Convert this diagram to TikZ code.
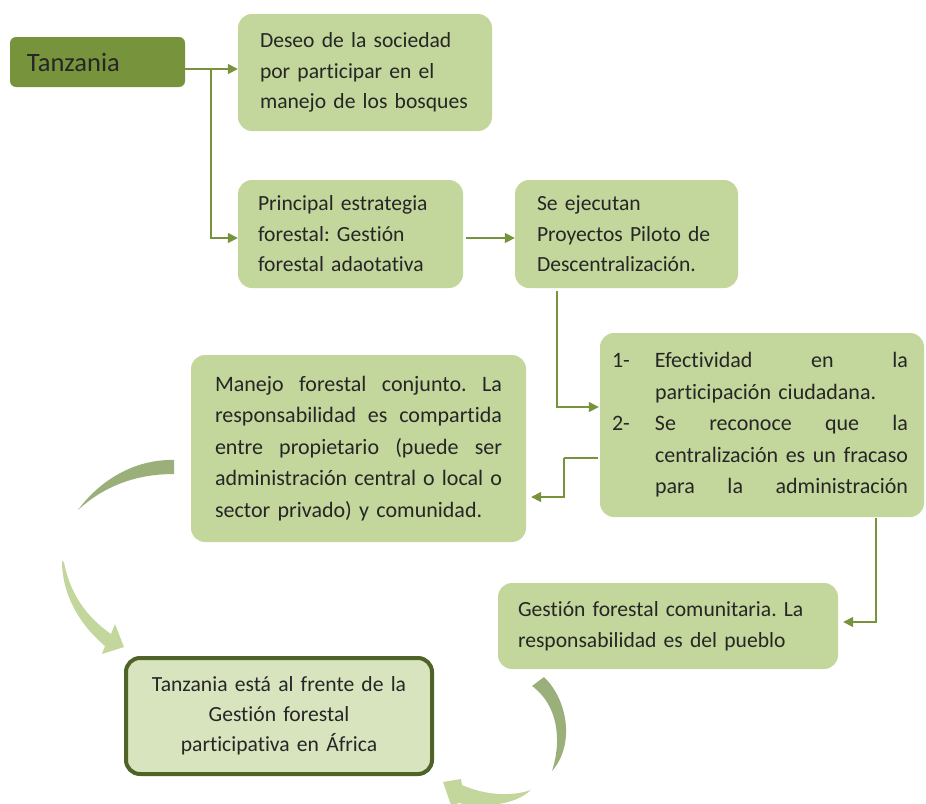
\documentclass[tikz,border=0pt]{standalone}
\usepackage{fontspec}
\setmainfont{Carlito}[Ligatures=NoCommon]
\usetikzlibrary{arrows.meta,calc}

\definecolor{olivedark}{HTML}{77933C}
\definecolor{olivelight}{HTML}{C3D69B}
\definecolor{olivepale}{HTML}{D7E4BD}
\definecolor{oliveborder}{HTML}{4F6228}
\definecolor{arcgrey}{HTML}{9BAF7A}
\definecolor{inkgrey}{HTML}{262626}

% a line of text spread across a given width
\newcommand{\spreadline}[2]{\makebox[#1][s]{#2}}

\begin{document}
\begin{tikzpicture}[x=1pt,y=-1pt,
  box/.style={rounded corners=14pt, fill=olivelight, text=inkgrey,
    font=\fontsize{21.6}{30.5}\selectfont\frenchspacing, inner ysep=0pt},
  link/.style={draw=olivedark, line width=1.6pt,
    -{Triangle[length=10pt,width=10pt]}},
  plainlink/.style={draw=olivedark, line width=1.6pt}]

\useasboundingbox (0,0) rectangle (926,803);

% starting box
\node[rounded corners=6pt, fill=olivedark, text=inkgrey,
  font=\fontsize{26.5}{30}\selectfont, text width=141pt, inner xsep=17pt,
  inner ysep=0pt, minimum height=50pt] (tz) at (97.5,62) {Tanzania};

% process boxes
\node[box, text width=224pt, inner xsep=15pt, minimum height=117pt] (b1) at (365,72.5)
  {\hspace*{7pt}Deseo de la sociedad\\\hspace*{7pt}por participar en el\\\hspace*{7pt}manejo de los bosques};

\node[box, text width=185pt, inner xsep=20pt, minimum height=108pt] (b2) at (350.5,234)
  {Principal estrategia\\forestal: Gestión\\forestal adaotativa};

\node[box, text width=179pt, inner xsep=22pt, minimum height=108pt] (b3) at (626.5,234)
  {Se ejecutan\\Proyectos Piloto de\\Descentralización.};

\node[box, font=\fontsize{22}{31.5}\selectfont\frenchspacing, text width=300pt,
  inner xsep=12pt, minimum height=184pt] (b4) at (762,425)
  {\makebox[43pt][l]{1-}\spreadline{253pt}{Efectividad\hfill en\hfill la}\\
   \hspace*{43pt}participación ciudadana.\\
   \makebox[43pt][l]{2-}\spreadline{253pt}{Se\hfill reconoce\hfill que\hfill la}\\
   \hspace*{43pt}\spreadline{253pt}{centralización\hfill es\hfill un\hfill fracaso}\\
   \hspace*{43pt}\spreadline{253pt}{para\hfill la\hfill administración}};

\node[box, font=\fontsize{22}{31.5}\selectfont\frenchspacing, text width=287pt,
  inner xsep=24pt, minimum height=187pt] (b5) at (358.5,448.5)
  {\spreadline{287pt}{Manejo\hfill forestal\hfill conjunto.\hfill La}\\
   \spreadline{287pt}{responsabilidad\hfill es\hfill compartida}\\
   \spreadline{287pt}{entre\hfill propietario\hfill (puede\hfill ser}\\
   \spreadline{287pt}{administración\hfill central\hfill o\hfill local\hfill o}\\
   sector privado) y comunidad.};

\node[box, text width=300pt, inner xsep=20pt, minimum height=86pt] (b6) at (668,626)
  {Gestión forestal comunitaria. La\\responsabilidad es del pueblo};

\node[rounded corners=14pt, fill=olivepale, draw=oliveborder, line width=4pt,
  text=inkgrey, font=\fontsize{21.6}{30}\selectfont\frenchspacing,
  text width=286pt, inner xsep=10pt, inner ysep=0pt, minimum height=116pt] (b7) at (279,716)
  {\centering Tanzania está al frente de la\\Gestión forestal\\participativa en África\par};

% elbow connectors
\coordinate (tzout) at ($(tz.east)+(0,7)$);
\coordinate (split) at ($(tzout)+(26,0)$);
\draw[link] (tzout) -- (tzout -| b1.west);
\draw[link] (split) |- ($(b2.west)+(0,4)$);
\draw[link] ($(b2.east)+(3,4)$) -- ($(b3.west)+(0,4)$);
\draw[link] ($(b3.south west)+(42,3)$) |- ($(b4.west)+(-1,-18)$);
\coordinate (bend) at ($(b4.west)+(-36,33)$);
\draw[plainlink] ($(b4.west)+(-2,33)$) -- (bend);
\draw[link] (bend) |- ($(b5.east)+(5,48.5)$);
\draw[link] ($(b4.south east)+(-48,1)$) |- ($(b6.east)+(5,-4)$);

% circular arrows around the result box
\fill[arcgrey] (174,460) .. controls (135,459) and (100,480) .. (78,510)
  .. controls (105,485) and (138,474) .. (174,474) -- cycle;
\fill[olivelight] (62,561) .. controls (62,595) and (80,625) .. (105,646)
  -- (102,654) -- (124,647) -- (115,624) -- (111,634)
  .. controls (88,618) and (70,595) .. (64,562) -- cycle;
\fill[arcgrey] (532,686) -- (544,677) .. controls (568,700) and (575,745) .. (552,771)
  .. controls (562,740) and (558,705) .. (532,686) -- cycle;
\fill[olivelight] (443,782) -- (461,779) -- (462,785)
  .. controls (485,795) and (510,797) .. (531,790)
  .. controls (515,805) and (485,808) .. (458,803) -- (452,808) -- cycle;
\end{tikzpicture}
\end{document}
